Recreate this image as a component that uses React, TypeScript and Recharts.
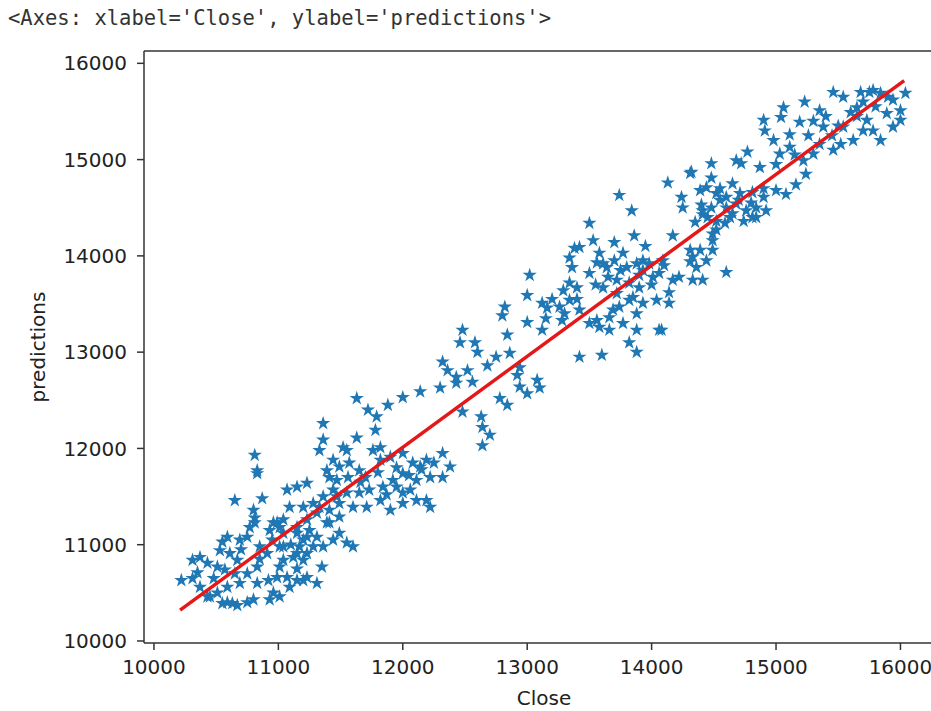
import { ScatterChart, Scatter, XAxis, YAxis, ReferenceLine } from 'recharts'

const X_TICKS = [10000, 11000, 12000, 13000, 14000, 15000, 16000]
const Y_TICKS = [10000, 11000, 12000, 13000, 14000, 15000, 16000]

// Close values (x) and model predictions (y)
const close = [
  10650, 10830, 10870, 10800, 10810, 10770, 10750, 10690, 10550, 10530, 10370, 10310, 10430, 10350, 10220, 10310,
  10510, 10610, 10670, 10570, 10690, 10590, 10510, 10430, 10590, 10670, 10750, 10830, 10920, 10960, 10930, 11010,
  11070, 11150, 11230, 11120, 11230, 11010, 10960, 11040, 11070, 11150, 11230, 11040, 10910, 10830, 11360, 11360,
  11330, 10810, 10830, 11470, 11390, 11350, 11310, 11200, 11090, 11010, 10630, 10550, 10450, 10370, 10590, 11010,
  11150, 11280, 11150, 11040, 11390, 11330, 11470, 11630, 11720, 11790, 11780, 11880, 12000, 12140, 12300, 12430,
  12480, 11630, 11550, 11760, 11410, 11490, 11570, 11650, 11820, 11900, 12000, 12080, 12190, 12320, 12380, 12320,
  12220, 12110, 12000, 11920, 11840, 11730, 11650, 11550, 11440, 11360, 11280, 11200, 11090, 10990, 11150, 11230,
  11310, 11410, 11490, 11600, 11710, 11820, 11900, 12000, 12110, 12220, 12060, 11490, 11410, 11490, 11550, 11600,
  11440, 11360, 11310, 11230, 11170, 11040, 11200, 10990, 10850, 10810, 10930, 10800, 12480, 12460, 12580, 12840,
  12860, 12680, 12320, 12360, 12430, 12520, 12560, 12780, 12840, 12630, 12640, 12700, 12640, 12140, 12190, 12000,
  11820, 11520, 11440, 13840, 13500, 13530, 13700, 13860, 13380, 13340, 13360, 13560, 13640, 13770, 13800, 13880,
  13930, 13980, 14090, 14170, 14310, 14410, 14360, 14220, 14330, 14010, 13900, 13820, 13720, 13610, 13500, 13400,
  13290, 13340, 13260, 13020, 13000, 13120, 13160, 12820, 12800, 13000, 13120, 13280, 13420, 13500, 13580, 13660,
  13740, 13820, 13930, 14040, 14140, 13880, 13770, 13660, 13420, 13600, 13820, 13880, 14080, 12940, 12920, 13080,
  13100, 13000, 12940, 14310, 14130, 14480, 14480, 14680, 14770, 14720, 14440, 14520, 14240, 14250, 14400, 14480,
  14600, 14710, 14810, 14650, 14810, 14590, 14520, 13740, 14490, 14490, 14390, 14330, 14440, 14600, 14410, 14170,
  14140, 14060, 13930, 13720, 13850, 13690, 13560, 14060, 13880, 13340, 13420, 13610, 13580, 15460, 15540, 15680,
  15780, 15840, 15940, 16040, 16000, 15940, 15840, 15780, 15730, 15650, 15600, 15540, 15620, 15520, 15460, 15380,
  15350, 15230, 15060, 15040, 15190, 14900, 14910, 14980, 15110, 15260, 15350, 15300, 15220, 15110, 15030, 15000,
  14870, 15240, 15160, 15080, 15000, 14900, 14840, 14760, 14680, 14550, 14320, 14390, 14410, 14520, 14630, 14740,
  14840, 14920, 14490, 14310, 15890, 16000, 15700,
  11700, 11800, 11950, 12050, 11870, 11950, 12150, 11660, 11560, 12250, 11100, 11200, 10950, 11150, 10850, 11250,
  10700, 10650, 10750, 10480, 13650, 13750, 13900, 14000, 13550, 14100, 13700, 13950, 14600, 14700, 14550, 14800,
  14900, 14650, 14450, 14350, 15400, 15500, 15700, 15800, 15650, 15300, 15750, 15900, 15450, 15150, 13200, 13300,
  13150, 13400, 12600, 12750,
]
const predictions = [
  11460, 11740, 11480, 11360, 11280, 11180, 11080, 11050, 11030, 10940, 10870, 10840, 10810, 10710, 10630, 10650,
  10770, 10910, 10840, 10740, 10600, 10560, 10500, 10460, 10400, 10370, 10400, 10600, 10630, 10500, 10430, 10770,
  10660, 10630, 10660, 10870, 10910, 10980, 11230, 11260, 11570, 11600, 11640, 11120, 10910, 10770, 12260, 12090,
  11980, 11930, 11770, 11670, 11770, 10770, 10600, 10630, 10560, 10460, 10390, 10390, 10460, 10560, 11080, 11180,
  11120, 10980, 10910, 10980, 11230, 11390, 11500, 12520, 12400, 12330, 12190, 12450, 12530, 12590, 12630, 12680,
  12380, 12110, 11980, 11980, 11700, 11810, 11850, 11770, 11880, 11910, 11950, 11850, 11880, 11950, 11810, 11700,
  11700, 11670, 11740, 11670, 11600, 11570, 11540, 11540, 11570, 11500, 11430, 11390, 11390, 11230, 11180, 11260,
  11330, 11360, 11430, 11390, 11390, 11460, 11360, 11430, 11460, 11390, 11570, 11290, 11230, 11120, 11020, 10980,
  11050, 10980, 11080, 11080, 10980, 10840, 10840, 10660, 10980, 11230, 11150, 10430, 13230, 13100, 13100, 13180,
  12990, 12860, 12900, 12810, 12740, 12810, 12690, 12520, 12450, 12330, 12220, 12140, 12030, 11810, 11460, 11540,
  12010, 12010, 11880, 14470, 14340, 14160, 14140, 14210, 14080, 13980, 13880, 13930, 13880, 14030, 13880, 13920,
  13850, 13920, 13950, 14210, 14060, 14470, 13880, 13780, 13750, 13780, 13670, 13720, 13750, 13670, 13820, 13670,
  13640, 13540, 13470, 13800, 13590, 13510, 13460, 13470, 13380, 13310, 13230, 13330, 13440, 13300, 13260, 13360,
  13470, 13540, 13510, 13540, 13510, 13400, 13300, 13230, 12950, 12970, 13100, 13000, 13230, 12840, 12760, 12710,
  12630, 12570, 12640, 14860, 14760, 14960, 14810, 14990, 15080, 14960, 14710, 14650, 14610, 14500, 14530, 14500,
  14610, 14650, 14660, 14440, 14400, 14340, 14270, 14630, 14160, 14060, 14060, 13990, 13950, 13830, 13750, 13750,
  13620, 13820, 13950, 13610, 13570, 13440, 13330, 13230, 13230, 13720, 14090, 13920, 14030, 15700, 15650, 15700,
  15720, 15690, 15620, 15690, 15510, 15340, 15200, 15300, 15410, 15540, 15490, 15340, 15200, 15160, 15100, 15340,
  15510, 15600, 15540, 15440, 15390, 15410, 15300, 15200, 15260, 15250, 15160, 15060, 14990, 15130, 15060, 14950,
  14920, 14850, 14740, 14640, 14680, 14610, 14500, 14470, 14540, 14580, 14870, 14680, 14430, 14360, 14400, 14360,
  14400, 14470, 14230, 13940, 15480, 15410, 15300,
  11700, 11750, 11800, 11720, 11520, 11600, 11780, 11650, 11700, 11850, 11000, 11050, 11050, 10750, 10850, 11150,
  10950, 10700, 10700, 10650, 13780, 13850, 13800, 13700, 13700, 13900, 13950, 14100, 14500, 14580, 14700, 14550,
  14700, 14750, 14400, 14350, 15450, 15350, 15600, 15550, 15450, 15400, 15700, 15650, 15250, 15050, 13550, 13400,
  13350, 13550, 13000, 12950,
]

// fitted line end points
const fitClose = [10210, 16030]
const fitPred = [10320, 15820]

const points = close.map((c, i) => ({ close: c, pred: predictions[i] }))
const fit = fitClose.map((c, i) => ({ close: c, pred: fitPred[i] }))

const BLUE = '#1f77b4'
const AXIS = '#333'
const tickStyle = { fill: '#222', fontSize: 20, fontFamily: 'DejaVu Sans' }

function Star(props: any) {
  const { cx, cy } = props
  const R = 7.5, r = 7.5 * 0.382
  const pts: string[] = []
  for (let k = 0; k < 10; k++) {
    const a = -Math.PI / 2 + (k * Math.PI) / 5
    const rad = k % 2 === 0 ? R : r
    pts.push(`${cx + rad * Math.cos(a)},${cy + rad * Math.sin(a)}`)
  }
  return <polygon points={pts.join(' ')} fill={BLUE} />
}

export default function App() {
  return (
    <div style={{ position: 'fixed', left: 0, top: 0, width: 931, height: 711, overflow: 'hidden', background: '#fff' }}>
      <div style={{ position: 'absolute', left: 8, top: 6, fontFamily: 'DejaVu Sans Mono', fontSize: 20.5, color: '#333', whiteSpace: 'pre' }}>
        {"<Axes: xlabel='Close', ylabel='predictions'>"}
      </div>
      <div style={{ position: 'absolute', left: 0, top: 0 }}>
        <ScatterChart width={960} height={711} margin={{ top: 51, right: 16, bottom: 0, left: 0 }}>
          <XAxis
            type="number" dataKey="close" domain={[9920, 16350]} ticks={X_TICKS} allowDataOverflow
            height={68} tickSize={7} tickMargin={10} tick={tickStyle}
            axisLine={{ stroke: AXIS, strokeWidth: 1.5 }} tickLine={{ stroke: AXIS, strokeWidth: 1.5 }}
          />
          <YAxis
            type="number" dataKey="pred" domain={[9979, 16128]} ticks={Y_TICKS} allowDataOverflow
            width={144} tickSize={7} tickMargin={10} tick={tickStyle}
            axisLine={{ stroke: AXIS, strokeWidth: 1.5 }} tickLine={{ stroke: AXIS, strokeWidth: 1.5 }}
          />
          <ReferenceLine y={16128} stroke={AXIS} strokeWidth={1.5} />
          <Scatter data={points} shape={Star} isAnimationActive={false} />
          <Scatter data={fit} line={{ stroke: '#e41818', strokeWidth: 3.5 }} shape={() => <g />} isAnimationActive={false} />
        </ScatterChart>
      </div>
      <div style={{ position: 'absolute', left: 144, width: 800, top: 686, textAlign: 'center', fontFamily: 'DejaVu Sans', fontSize: 20, color: '#222' }}>
        Close
      </div>
      <div style={{ position: 'absolute', left: 38, top: 347, transform: 'translate(-50%, -50%) rotate(-90deg)', fontFamily: 'DejaVu Sans', fontSize: 20, color: '#222', whiteSpace: 'nowrap' }}>
        predictions
      </div>
    </div>
  )
}
